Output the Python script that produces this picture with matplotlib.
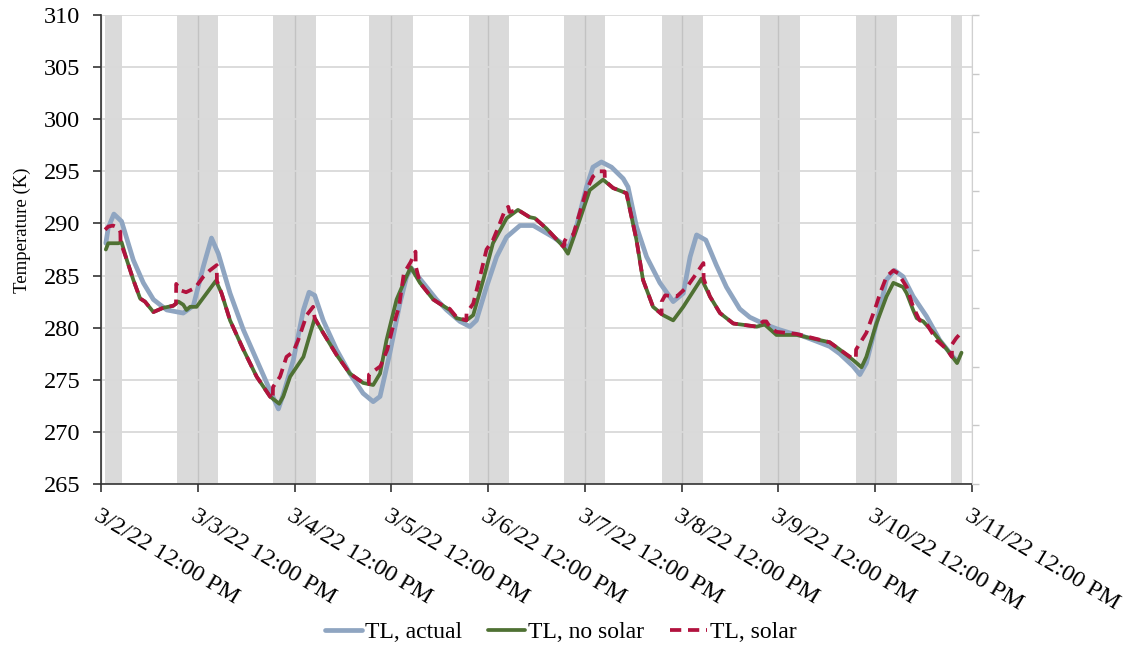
import numpy as np
import matplotlib
matplotlib.use("Agg")
import matplotlib.pyplot as plt
import matplotlib.dates as mdates
from matplotlib.transforms import ScaledTranslation
from datetime import datetime, timedelta

# hours after 3/2/22 12:00 PM
actual_hr = [1.2, 1.8, 3.2, 5.1, 8.0, 10.5, 13.0, 16.3, 20.4, 22.9, 25.4, 27.4, 29.1,
             32.0, 35.3, 38.6, 41.9, 44.0, 45.2, 47.7, 50.2, 51.6, 53.0, 55.1, 58.4,
             61.7, 65.0, 67.5, 69.2, 71.6, 74.1, 75.8, 77.0, 79.9, 83.2, 85.7, 89.0,
             91.5, 93.1, 95.6, 98.1, 100.6, 103.9, 107.2, 112.1, 115.4, 115.9, 117.9,
             120.4, 122.0, 124.1, 126.6, 129.5, 130.7, 132.8, 135.3, 138.6, 141.9,
             144.4, 146.1, 147.7, 150.0, 152.6, 155.1, 158.4, 160.9, 164.2, 167.5,
             170.8, 173.3, 177.4, 180.7, 183.2, 186.5, 188.2, 189.8, 192.3, 194.8,
             196.8, 198.9, 201.4, 204.7, 208.0, 211.3, 212.3]
actual_k = [288.1, 289.6, 290.9, 290.2, 286.5, 284.3, 282.7, 281.7, 281.4, 282.1, 285.9,
            288.6, 287.1, 283.3, 279.8, 276.9, 274.0, 272.2, 273.6, 276.9, 281.7, 283.4,
            283.1, 280.7, 277.9, 275.6, 273.7, 272.9, 273.4, 277.5, 282.3, 284.9, 285.7,
            284.3, 282.7, 281.7, 280.6, 280.1, 280.7, 283.9, 286.8, 288.7, 289.8, 289.8,
            288.7, 287.8, 287.6, 289.7, 293.5, 295.4, 295.9, 295.4, 294.3, 293.5, 289.7,
            286.8, 284.3, 282.5, 283.3, 286.8, 288.9, 288.4, 286.0, 283.9, 281.8, 281.0,
            280.4, 279.9, 279.5, 279.3, 278.7, 278.2, 277.5, 276.3, 275.5, 276.6, 280.4,
            284.6, 285.5, 284.9, 283.0, 281.1, 278.8, 277.2, 276.8]

nosolar_hr = [1.2, 1.8, 4.3, 5.1, 6.4, 8.0, 9.7, 10.9, 13.0, 15.4, 17.9, 19.2, 20.4, 21.2,
              22.1, 23.7, 26.2, 28.5, 29.9, 32.0, 35.3, 38.6, 41.9, 44.2, 45.2, 46.9,
              50.2, 53.0, 55.1, 58.4, 61.7, 65.0, 67.5, 69.2, 70.8, 73.3, 75.4, 76.8,
              79.1, 82.4, 84.0, 86.5, 88.2, 90.6, 92.3, 94.8, 97.2, 100.6, 103.4, 106.3,
              107.6, 110.5, 114.6, 115.8, 117.9, 121.2, 124.5, 127.0, 130.3, 132.8,
              134.4, 136.9, 139.4, 141.9, 144.4, 148.9, 151.0, 153.5, 156.8, 162.6,
              164.6, 167.5, 172.5, 180.7, 183.2, 186.5, 188.6, 189.8, 192.3, 194.8,
              196.5, 198.9, 199.8, 201.4, 202.3, 203.9, 206.5, 209.8, 212.3, 213.4]
nosolar_k = [287.5, 288.1, 288.1, 288.2, 286.5, 284.6, 282.8, 282.5, 281.5, 281.9, 282.1,
             282.5, 282.2, 281.7, 282.0, 282.0, 283.3, 284.5, 283.3, 280.7, 277.9, 275.3,
             273.4, 272.7, 273.4, 275.3, 277.2, 280.9, 279.5, 277.4, 275.6, 274.7, 274.5,
             275.6, 278.8, 282.7, 284.6, 285.8, 284.3, 282.7, 282.3, 281.7, 280.9, 280.7,
             281.2, 284.6, 288.1, 290.5, 291.3, 290.6, 290.5, 289.5, 287.8, 287.1, 289.4,
             293.2, 294.2, 293.4, 292.9, 288.4, 284.6, 282.0, 281.2, 280.7, 282.0, 284.7,
             283.0, 281.4, 280.4, 280.1, 280.3, 279.3, 279.3, 278.6, 277.9, 276.9, 276.2,
             277.2, 280.4, 283.0, 284.3, 283.9, 283.3, 281.7, 280.9, 280.6, 279.5, 277.9,
             276.6, 277.6]

solar_hr = [1.0, 1.8, 3.0, 4.2, 4.8, 4.85, 6.4, 8.0, 9.7, 10.9, 13.0, 15.4, 17.9, 18.6,
            18.65, 19.6, 21.1, 23.3, 25.4, 27.0, 28.7, 28.75, 29.9, 32.0, 35.3, 38.6,
            41.9, 42.6, 42.65, 44.4, 46.0, 47.7, 48.9, 51.0, 52.6, 53.0, 55.1, 58.4,
            61.7, 65.0, 66.4, 66.45, 69.3, 71.0, 72.2, 73.9, 75.1, 76.8, 78.0, 78.05,
            79.1, 82.4, 84.0, 86.5, 88.2, 90.6, 90.65, 92.3, 94.0, 95.6, 97.2, 98.9,
            100.2, 101.0, 101.3, 103.4, 106.3, 107.6, 110.5, 114.6, 114.9, 114.95,
            115.4, 117.1, 118.7, 120.4, 122.0, 123.7, 124.9, 124.95, 127.0, 130.3,
            132.8, 134.4, 136.9, 139.0, 139.05, 139.9, 142.8, 145.3, 147.3, 149.4,
            149.45, 151.0, 153.5, 156.8, 162.6, 163.4, 164.2, 165.0, 166.0, 167.5,
            172.5, 180.7, 183.2, 186.5, 187.2, 187.25, 189.8, 191.1, 192.3, 193.2,
            194.8, 196.5, 197.7, 199.8, 201.4, 203.0, 204.7, 207.2, 209.8, 211.0,
            211.05, 212.1, 213.5]
solar_k = [289.4, 289.7, 289.8, 289.6, 289.2, 288.2, 286.5, 284.6, 282.8, 282.5, 281.5,
           281.9, 282.1, 282.3, 284.2, 283.6, 283.4, 283.8, 284.9, 285.5, 286.0, 284.5,
           283.3, 280.7, 277.9, 275.3, 273.4, 273.1, 274.3, 275.3, 277.2, 277.7, 278.8,
           281.2, 282.0, 280.9, 279.5, 277.4, 275.6, 274.7, 274.6, 275.5, 276.3, 277.9,
           279.8, 282.0, 285.2, 286.3, 287.3, 285.9, 284.3, 282.7, 282.3, 281.8, 281.0,
           280.7, 281.4, 282.3, 284.9, 287.5, 288.4, 290.0, 291.3, 291.6, 291.1, 291.3,
           290.6, 290.5, 289.5, 287.8, 287.9, 288.3, 288.6, 288.9, 291.0, 293.2, 294.5,
           295.0, 295.0, 294.1, 293.4, 292.9, 288.4, 284.6, 282.0, 281.3, 282.5, 283.1,
           283.0, 283.9, 285.0, 286.2, 284.7, 283.0, 281.4, 280.4, 280.1, 280.3, 280.6,
           280.6, 280.0, 279.6, 279.4, 278.6, 277.9, 277.0, 277.1, 277.9, 279.5, 280.9,
           282.2, 283.3, 284.9, 285.5, 285.2, 283.9, 282.0, 280.7, 280.4, 278.8, 277.9,
           277.2, 278.4, 279.0, 279.6]

# daylight periods (hours after start)
day_on = [1.0, 18.9, 42.6, 66.5, 91.3, 114.8, 139.1, 163.4, 187.2, 210.9]
day_off = [5.1, 29.1, 53.2, 77.3, 101.2, 124.9, 149.3, 173.3, 197.4, 213.6]

start = datetime(2022, 3, 2, 12)
n_days = 9


def to_num(hours):
    return mdates.date2num(start) + np.asarray(hours, dtype=float) / 24.0


plt.rcParams["font.family"] = ["Liberation Serif", "DejaVu Serif"]

fig = plt.figure(figsize=(11.42, 6.53), dpi=100)
ax = fig.add_axes([101 / 1142, 1 - 484 / 653, 871 / 1142, 469 / 653])

for a, b in zip(day_on, day_off):
    ax.axvspan(to_num(a), to_num(b), color="#dadada", lw=0, zorder=0)

ax.plot(to_num(actual_hr), actual_k, color="#8fa5c1", lw=3.4, label="TL, actual",
        zorder=3, solid_joinstyle="round", solid_capstyle="round")
ax.plot(to_num(nosolar_hr), nosolar_k, color="#4f7133", lw=2.7, label="TL, no solar",
        zorder=4, solid_joinstyle="round", solid_capstyle="round")
ax.plot(to_num(solar_hr), solar_k, color="#b2123e", lw=2.7, ls=(0, (3.0, 1.8)),
        label="TL, solar", zorder=5, dash_joinstyle="round")

ax.set_ylim(265, 310)
ax.set_yticks(np.arange(265, 311, 5))
ax.set_xlim(to_num(0), to_num(24 * n_days))
ticks = [start + timedelta(days=i) for i in range(n_days + 1)]
ax.set_xticks(mdates.date2num(ticks))
ax.set_xticklabels([f"{d.month}/{d.day}/{d:%y} {d:%I:%M %p}" for d in ticks],
                   rotation=-31, ha="left", va="top", rotation_mode="anchor")
for lab in ax.get_xticklabels():
    lab.set_transform(lab.get_transform() + ScaledTranslation(-0.12, 0, fig.dpi_scale_trans))

ax.set_axisbelow(True)
ax.yaxis.grid(True, color="#d9d9d9", lw=1.3)
ax.xaxis.grid(True, color="#c2c2c2", lw=1.0)

ax.tick_params(axis="both", direction="out", length=6, width=1.2, color="#333333",
               labelsize=17.5)
ax.tick_params(axis="y", pad=9)
ax.tick_params(axis="x", pad=9)
for side in ("top", "right"):
    ax.spines[side].set_visible(False)
for side in ("left", "bottom"):
    ax.spines[side].set_color("#333333")
    ax.spines[side].set_linewidth(1.2)

ax.set_ylabel("Temperature (K)", fontsize=13.5)
ax.yaxis.set_label_coords(-0.080, 0.54)

# unlabeled secondary axis on the right
ax2 = ax.twinx()
ax2.set_ylim(0, 8)
ax2.set_yticks(range(9))
ax2.set_yticklabels([])
ax2.tick_params(axis="y", length=5, width=1, color="#c8c8c8")
for side in ("top", "left", "bottom"):
    ax2.spines[side].set_visible(False)
ax2.spines["right"].set_color("#d0d0d0")

fig.legend(loc="center", bbox_to_anchor=(561 / 1142, 1 - 632 / 653), ncol=3,
           frameon=False, fontsize=17, handlelength=1.55, handletextpad=0.15,
           columnspacing=1.1)

fig.savefig("out.png", dpi=100)
